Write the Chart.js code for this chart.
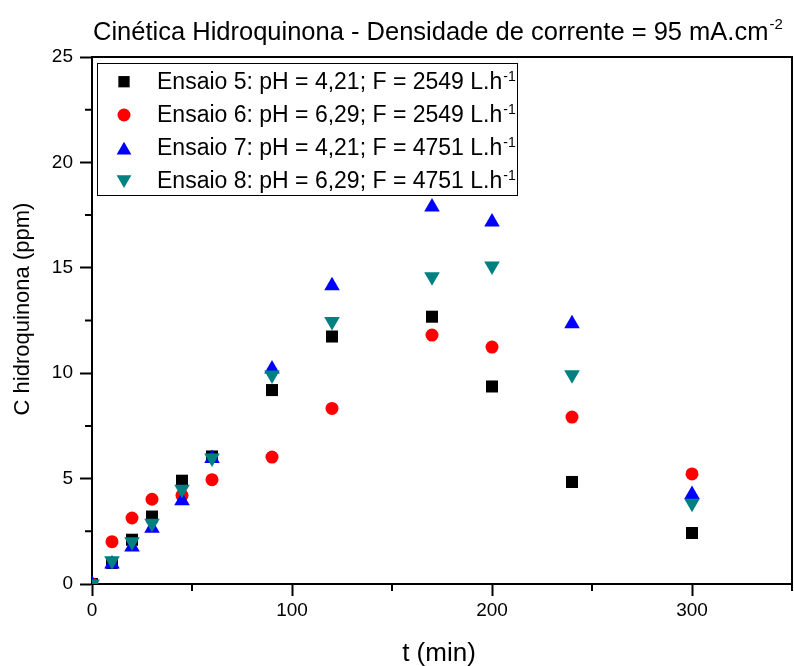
<!DOCTYPE html>
<html>
<head>
<meta charset="utf-8">
<script src="https://cdn.jsdelivr.net/npm/chart.js@4.4.1/dist/chart.umd.min.js"></script>
<style>
  html, body { margin: 0; padding: 0; background: #fff; }
  #wrap { width: 794px; height: 666px; position: relative; }
</style>
</head>
<body>
<div id="wrap"><canvas id="kinetics"></canvas></div>
<script>
// sampling times (min)
const times = [0, 10, 20, 30, 45, 60, 90, 120, 170, 200, 240, 300];

// hydroquinone concentration (ppm)
const ensaio5 = [0, 1.0, 2.1, 3.2, 4.9, 6.05, 9.2, 11.74, 12.68, 9.37, 4.84, 2.42];
const ensaio6 = [0, 2.01, 3.13, 4.02, 4.2, 4.95, 6.02, 8.33, 11.81, 11.24, 7.92, 5.22];
const ensaio7 = [0, 0.95, 1.75, 2.65, 3.95, 5.95, 10.2, 14.15, 17.88, 17.17, 12.35, 4.25];
const ensaio8 = [0, 1.1, 2.0, 2.88, 4.5, 5.98, 9.92, 12.45, 14.57, 15.08, 9.93, 3.83];

const seriesLabels = [
  "Ensaio 5: pH = 4,21; F = 2549 L.h",
  "Ensaio 6: pH = 6,29; F = 2549 L.h",
  "Ensaio 7: pH = 4,21; F = 4751 L.h",
  "Ensaio 8: pH = 6,29; F = 4751 L.h"
];

const xTicksMajor = [0, 100, 200, 300];
const yTicksMajor = [0, 5, 10, 15, 20, 25];
const xTicksMinor = [50, 150, 250, 350];
const yTicksMinor = [2.5, 7.5, 12.5, 17.5, 22.5];

const FONT = "'Liberation Sans', Arial, sans-serif";

function toPoints(values) {
  return times.map((t, i) => ({ x: t, y: values[i] }));
}

// text with a trailing superscript
function supText(ctx, text, sup, x, y, size, supSize, rise) {
  ctx.font = size + "px " + FONT;
  ctx.fillText(text, x, y);
  const w = ctx.measureText(text).width;
  ctx.font = supSize + "px " + FONT;
  ctx.fillText(sup, x + w + 1, y - rise);
}

// title, axis titles, legend box, frame and minor ticks
const decorPlugin = {
  id: "decor",
  afterDraw(chart) {
    const ctx = chart.ctx;
    const area = chart.chartArea;
    const xs = chart.scales.x;
    const ys = chart.scales.y;
    ctx.save();

    // frame top + right
    ctx.strokeStyle = "#000";
    ctx.lineWidth = 2;
    ctx.beginPath();
    ctx.moveTo(area.left, area.top);
    ctx.lineTo(area.right, area.top);
    ctx.lineTo(area.right, area.bottom);
    ctx.stroke();

    // minor ticks
    ctx.beginPath();
    xTicksMinor.forEach(v => {
      const px = xs.getPixelForValue(v);
      ctx.moveTo(px, area.bottom);
      ctx.lineTo(px, area.bottom + 7);
    });
    yTicksMinor.forEach(v => {
      const py = ys.getPixelForValue(v);
      ctx.moveTo(area.left, py);
      ctx.lineTo(area.left - 7, py);
    });
    ctx.stroke();

    ctx.fillStyle = "#000";
    ctx.textBaseline = "alphabetic";
    ctx.textAlign = "left";

    // chart title
    supText(ctx, "Cinética Hidroquinona - Densidade de corrente = 95 mA.cm", "-2", 93, 40, 25.5, 15, 11);

    // axis titles
    ctx.font = "26px " + FONT;
    ctx.textAlign = "center";
    ctx.fillText("t (min)", 439, 661);
    ctx.save();
    ctx.translate(29, 309);
    ctx.rotate(-Math.PI / 2);
    ctx.font = "22px " + FONT;
    ctx.fillText("C hidroquinona (ppm)", 0, 0);
    ctx.restore();
    ctx.textAlign = "left";

    // legend
    const lx = 97, ly = 63, lw = 420, lh = 132;
    ctx.fillStyle = "#fff";
    ctx.fillRect(lx, ly, lw, lh);
    ctx.strokeStyle = "#000";
    ctx.lineWidth = 1;
    ctx.strokeRect(lx + 0.5, ly + 0.5, lw, lh);
    chart.data.datasets.forEach((ds, i) => {
      const cy = 81.7 + i * 33.3;
      ctx.fillStyle = ds.backgroundColor;
      ctx.strokeStyle = ds.borderColor;
      Chart.helpers.drawPoint(ctx, {
        pointStyle: ds.pointStyle,
        radius: ds.legendRadius,
        rotation: ds.pointRotation || 0,
        borderWidth: 0
      }, 124, cy + (ds.legendShift || 0));
      ctx.fillStyle = "#000";
      supText(ctx, ds.label, "-1", 157, cy + 6.8, 23, 14, 8);
    });
    ctx.restore();
  }
};

const baseSet = { showLine: false, borderWidth: 0, pointHoverRadius: 8 };

new Chart(document.getElementById("kinetics"), {
  type: "scatter",
  data: {
    datasets: [
      Object.assign({}, baseSet, {
        label: seriesLabels[0], data: toPoints(ensaio5), order: 3,
        pointStyle: "rect", pointRadius: 8.5, legendRadius: 8,
        backgroundColor: "#000000", borderColor: "#000000"
      }),
      Object.assign({}, baseSet, {
        label: seriesLabels[1], data: toPoints(ensaio6), order: 2,
        pointStyle: "circle", pointRadius: 6.5, legendRadius: 6.5,
        backgroundColor: "#ff0000", borderColor: "#ff0000"
      }),
      Object.assign({}, baseSet, {
        label: seriesLabels[2], data: toPoints(ensaio7), order: 1,
        pointStyle: "triangle", pointRadius: 9, legendRadius: 8.5, legendShift: 2,
        backgroundColor: "#0000ff", borderColor: "#0000ff"
      }),
      Object.assign({}, baseSet, {
        label: seriesLabels[3], data: toPoints(ensaio8), order: 0,
        pointStyle: "triangle", pointRotation: 180,
        pointRadius: 9, legendRadius: 8.5, legendShift: -2,
        backgroundColor: "#008080", borderColor: "#008080"
      })
    ]
  },
  options: {
    responsive: true,
    maintainAspectRatio: false,
    animation: false,
    layout: { autoPadding: false, padding: { left: 0, right: 2, top: 57, bottom: 0 } },
    plugins: {
      legend: { display: false },
      title: { display: false },
      tooltip: { enabled: true }
    },
    scales: {
      x: {
        type: "linear",
        min: 0,
        max: 350,
        afterBuildTicks(scale) {
          scale.ticks = xTicksMajor.map(v => ({ value: v }));
        },
        afterFit(scale) {
          scale.height = 82;
        },
        border: { display: true, color: "#000", width: 2 },
        grid: { drawOnChartArea: false, tickLength: 12, tickColor: "#000", tickWidth: 2 },
        ticks: { color: "#000", font: { family: FONT, size: 19 }, padding: 3, maxRotation: 0 }
      },
      y: {
        type: "linear",
        min: 0,
        max: 25,
        afterBuildTicks(scale) {
          scale.ticks = yTicksMajor.map(v => ({ value: v }));
        },
        afterFit(scale) {
          scale.width = 92;
        },
        border: { display: true, color: "#000", width: 2 },
        grid: { drawOnChartArea: false, tickLength: 12, tickColor: "#000", tickWidth: 2 },
        ticks: { color: "#000", font: { family: FONT, size: 19 }, padding: 7 }
      }
    }
  },
  plugins: [decorPlugin]
});
</script>
</body>
</html>
